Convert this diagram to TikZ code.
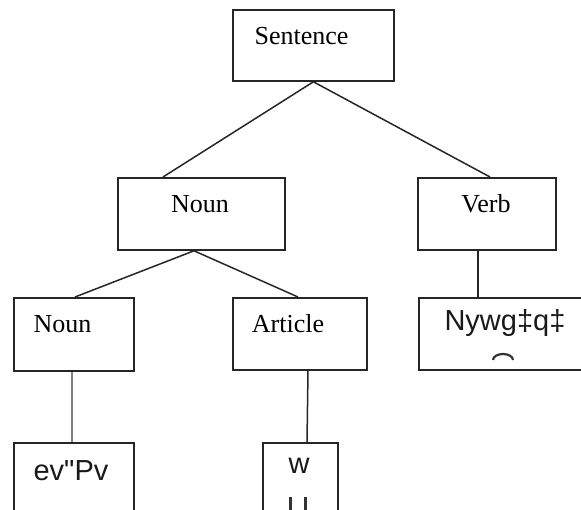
\documentclass[tikz,border=0pt]{standalone}
\usepackage{fontspec}
\setmainfont{Liberation Serif}
\newfontfamily\sanf{Liberation Sans}
\usetikzlibrary{calc}
\begin{document}
\begin{tikzpicture}[x=1pt,y=-1pt,
  box/.style={draw=black!85, line width=1.8pt, inner sep=0pt, anchor=north west},
  serif/.style={anchor=base, inner sep=0pt, font=\fontsize{26}{30}\selectfont},
  sans/.style={anchor=base, inner sep=0pt, font=\sanf\fontsize{29}{32}\selectfont, text=black!90},
  link/.style={draw=black!85, line width=1.5pt},
  greylink/.style={draw=black!50, line width=2.4pt},
  glyphpart/.style={draw=black!80, line width=2.2pt}]
\useasboundingbox (0,0) rectangle (581,510);
\clip (0,0) rectangle (581,510);
% boxes
\node[box, minimum width=161pt, minimum height=71pt] (s) at (232,9) {};
\node[box, minimum width=167pt, minimum height=72pt] (nm) at (117,177) {};
\node[box, minimum width=138pt, minimum height=72pt] (v) at (417,177) {};
\node[box, minimum width=120pt, minimum height=73pt] (nl) at (13,297) {};
\node[box, minimum width=134pt, minimum height=72pt] (a) at (232,297) {};
\node[box, minimum width=180pt, minimum height=72pt] (vc) at (418,297) {};
\node[box, minimum width=120pt, minimum height=90pt] (e) at (13,442) {};
\node[box, minimum width=75pt, minimum height=90pt] (w) at (262,442) {};
% texts
\node[serif] (ts) at (301.5,45) {Sentence};
\node[serif] (tnm) at (200,213) {Noun};
\node[serif] (tv) at (486,213) {Verb};
\node[serif] (tnl) at (62.5,333) {Noun};
\node[serif] (ta) at (288,333) {Article};
\node[sans] (tvc) at (505,331) {Nywg‡q‡};
\node[sans] (te) at (71,480) {ev"Pv};
\node[sans] (tw) at (299,473) {w};
% glyph fragments
\draw[glyphpart] (493,360) arc[start angle=180, end angle=360, x radius=10, y radius=6];
\draw[glyphpart, line width=3pt] (290.5,497) -- (290.5,512);
\draw[glyphpart, line width=3pt] (305.5,497) -- (305.5,512);
% connectors
\draw[link] (s.south) -- ($(nm.north west)+(46,0)$);
\draw[link] (s.south) -- ($(v.north west)+(73,0)$);
\draw[link] ($(nm.south west)+(77,0)$) -- ($(nl.north west)+(62,0)$);
\draw[link] ($(nm.south west)+(77,0)$) -- ($(a.north west)+(66,0)$);
\draw[link] ($(v.south west)+(61,0)$) -- ($(vc.north west)+(60,0)$);
\draw[greylink] ($(nl.south west)+(59,0)$) -- ($(e.north west)+(59,0)$);
\draw[link] ($(a.south west)+(76,0)$) -- ($(w.north west)+(45,0)$);
\end{tikzpicture}
\end{document}
